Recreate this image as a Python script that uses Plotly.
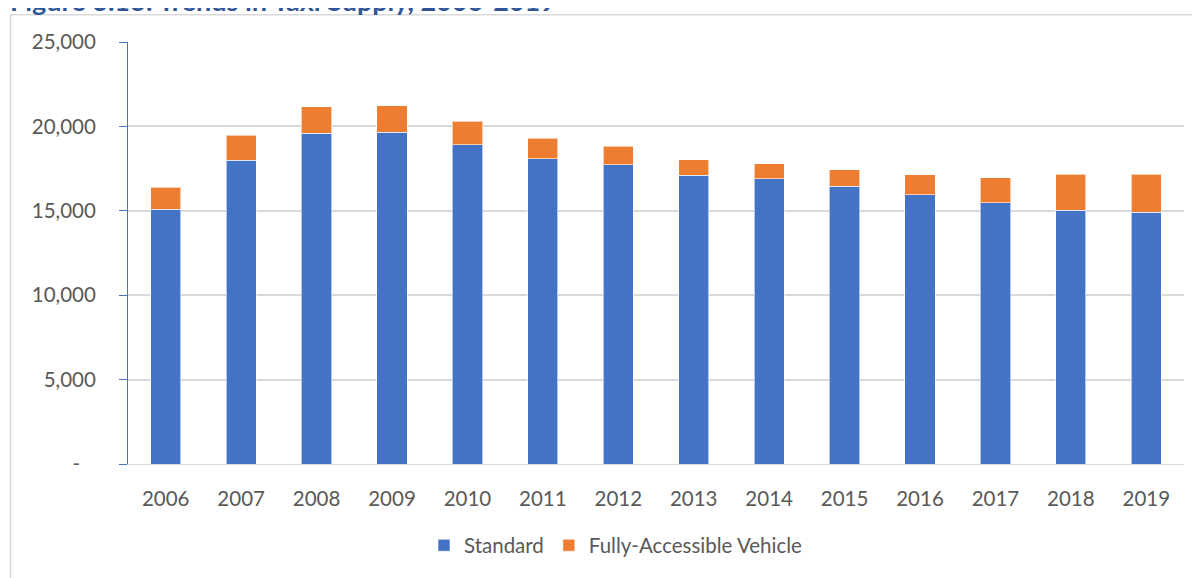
import plotly.graph_objects as go

years = ["2006", "2007", "2008", "2009", "2010", "2011", "2012",
         "2013", "2014", "2015", "2016", "2017", "2018", "2019"]
standard = [15090, 18000, 19590, 19650, 18920, 18090, 17740,
            17120, 16900, 16450, 15960, 15490, 15040, 14920]
fav = [1320, 1470, 1560, 1560, 1390, 1220, 1080,
       900, 880, 980, 1180, 1470, 2140, 2260]
y_tickvals = [0, 5000, 10000, 15000, 20000, 25000]
y_ticktext = ["-\u00a0\u00a0\u00a0", "5,000", "10,000", "15,000", "20,000", "25,000"]

BLUE = "#4472C4"
ORANGE = "#ED7D31"
FONT = "Lato, 'Open Sans', sans-serif"

# page offset of the plot div (body margin)
OFF = 8
W, H = 1200 - OFF, 578 - OFF
L, R, T, B = 128 - OFF, 16, 42 - OFF, 111
pw = W - L - R
ph = H - T - B


def px_x(p):
    return (p - OFF - L) / pw


def px_y(p):
    return (H - B - (p - OFF)) / ph


fig = go.Figure()
fig.add_trace(go.Bar(x=years, y=standard, name="Standard",
                     marker=dict(color=BLUE, line=dict(color="rgba(255,255,255,0.6)", width=1))))
fig.add_trace(go.Bar(x=years, y=fav, name="Fully-Accessible Vehicle",
                     marker=dict(color=ORANGE, line=dict(color="rgba(255,255,255,0.6)", width=1))))

fig.update_layout(
    width=W, height=H,
    barmode="stack", bargap=0.6,
    margin=dict(l=L, r=R, t=T, b=B),
    paper_bgcolor="white", plot_bgcolor="white",
    font=dict(family=FONT, size=20.5, color="#595959"),
    showlegend=True,
    legend=dict(orientation="h", x=px_x(616), xanchor="center",
                y=px_y(549), yanchor="middle",
                font=dict(size=20.5, color="#595959"),
                itemwidth=30, traceorder="normal"),
    xaxis=dict(showline=True, linecolor="#D9D9D9", linewidth=1,
               ticks="outside", ticklen=16, tickcolor="rgba(0,0,0,0)",
               showgrid=False),
    yaxis=dict(range=[0, 25000], tickvals=y_tickvals, ticktext=y_ticktext,
               showline=True, linecolor=BLUE, linewidth=1,
               ticks="outside", ticklen=8, tickcolor=BLUE,
               ticklabelstandoff=19,
               showgrid=True, gridcolor="#D9D9D9", gridwidth=1.5,
               zeroline=False),
    shapes=[dict(type="rect", xref="paper", yref="paper",
                 x0=px_x(10.5), x1=px_x(1210), y0=px_y(600), y1=px_y(14.5),
                 line=dict(color="#D9D9D9", width=1.5), layer="below")],
    annotations=[dict(text="<b>Figure 3.13: Trends in Taxi Supply, 2006-2019</b>",
                      xref="paper", yref="paper", x=px_x(8), xanchor="left",
                      y=px_y(18.5), yanchor="bottom", showarrow=False,
                      font=dict(family=FONT, size=27, color="#2F5597"))],
)

fig.write_html("out.html")
